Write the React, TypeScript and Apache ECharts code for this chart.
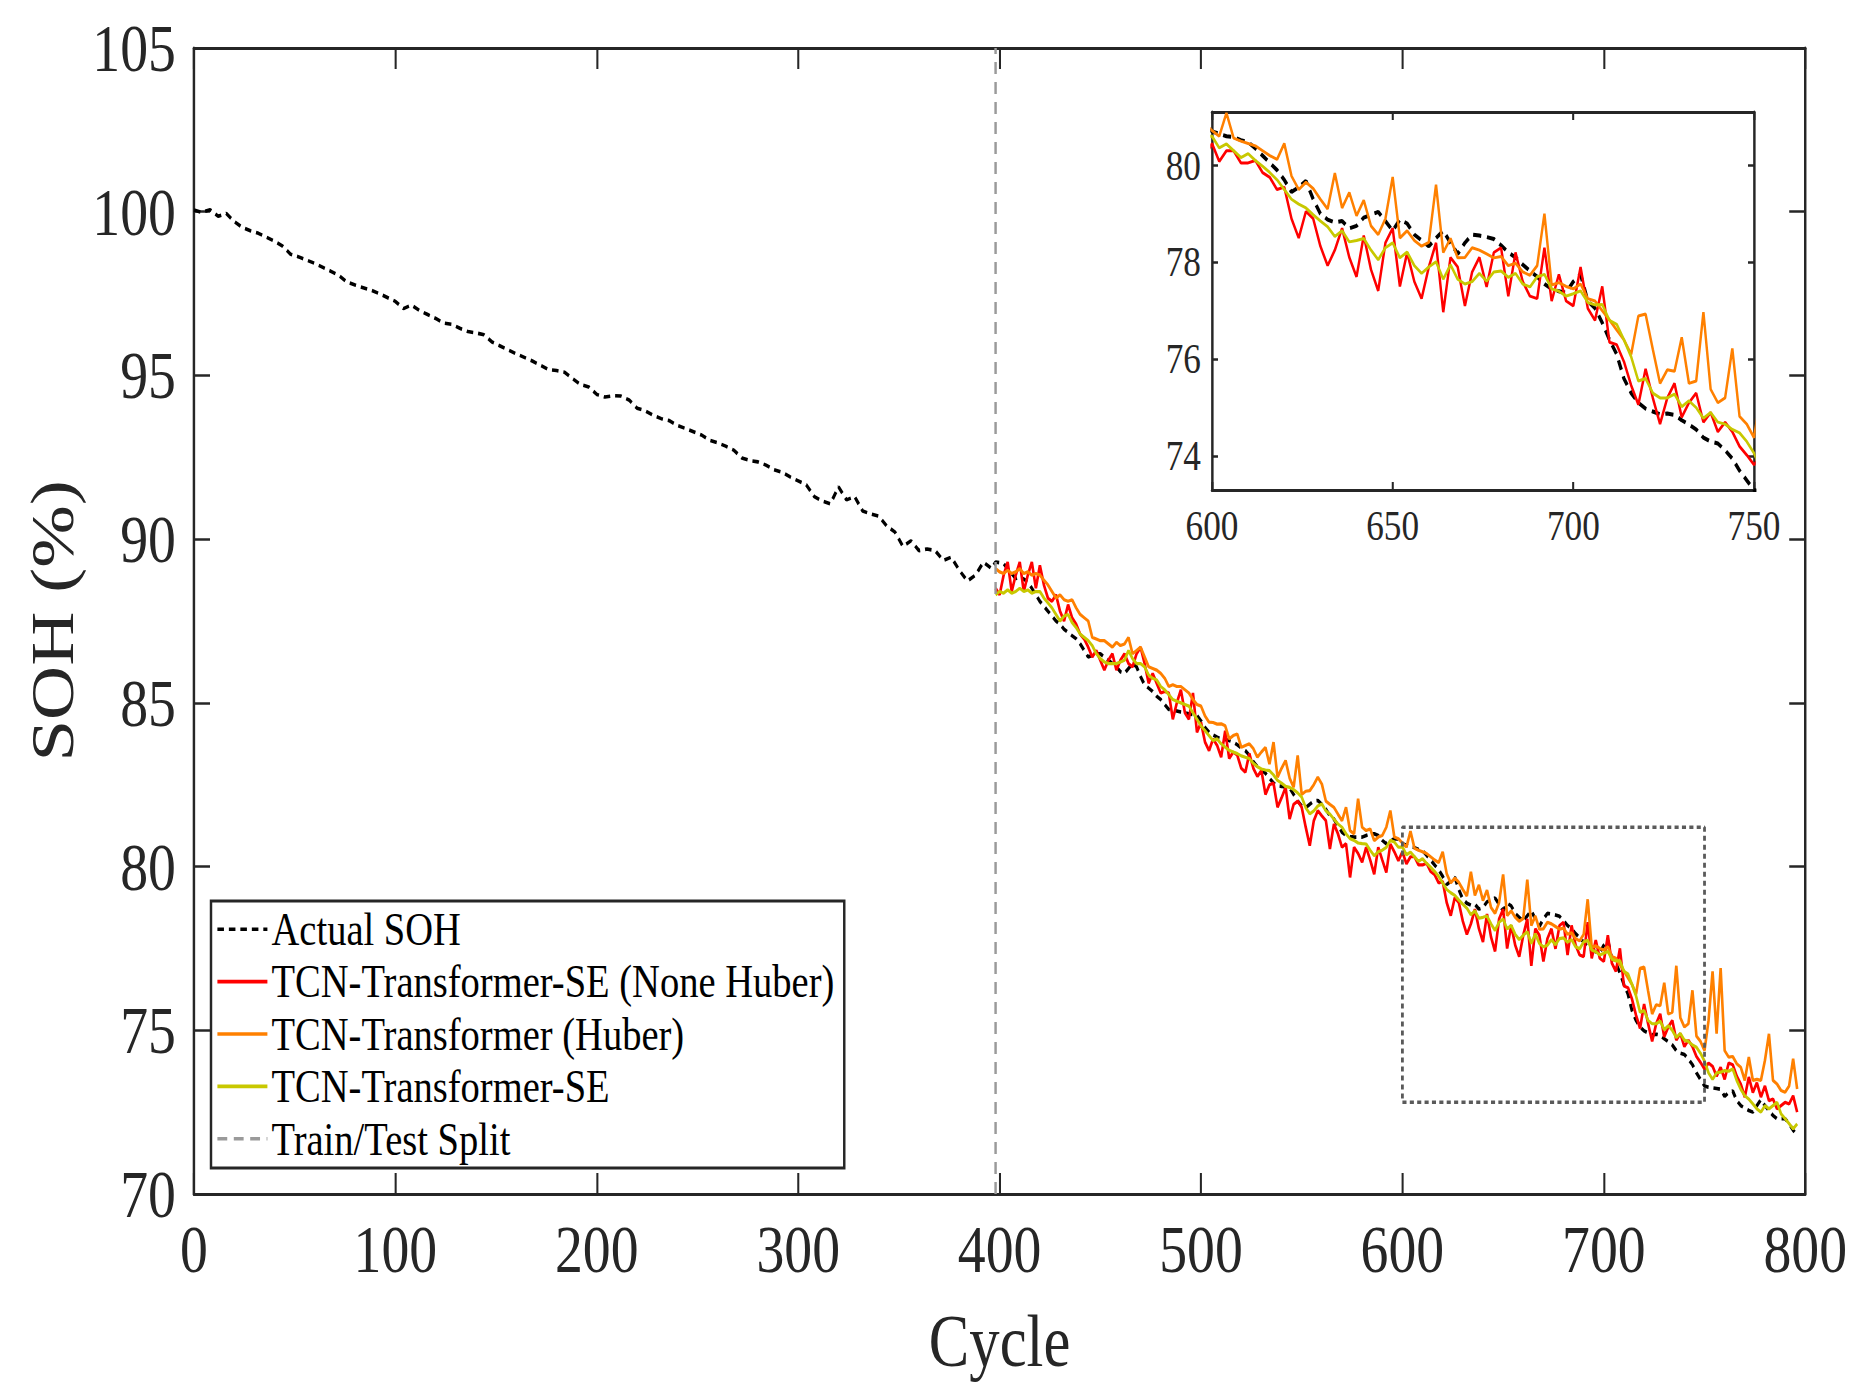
import { useEffect, useRef } from "react"
import * as echarts from "echarts"

// the reference figure is horizontally condensed, so the chart is drawn wider and squeezed with scaleX
const K = 0.82
const PAGE_W = 1862
const PAGE_H = 1396
const W = PAGE_W / K
const hx = (v: number) => v / K

const FONT = "'Liberation Serif', 'Times New Roman', serif"
const AXIS_COLOR = "#262626"

const X_RANGE = [0, 800]
const Y_RANGE = [70, 105]
const INSET_X = [600, 750]
const INSET_Y = [73.3, 81.1]
const INSET_Y_TICKS = [74, 76, 78, 80]
const ZOOM_X = [600, 750]
const ZOOM_Y = [72.8, 81.2]
const SPLIT_CYCLE = 398

const NAMES = [
  "Actual SOH",
  "TCN-Transformer-SE (None Huber)",
  "TCN-Transformer (Huber)",
  "TCN-Transformer-SE",
  "Train/Test Split",
]
const COLORS = ["#000000", "#ff0000", "#ff8000", "#c8c800", "#9a9a9a"]

// actual SOH, cycles 0..396 every 4
const TRAIN_START = 0
const TRAIN_STEP = 4
const ACTUAL_TRAIN = [
  100.05, 99.98, 100.06, 99.86, 99.95, 99.7, 99.52, 99.42, 99.34, 99.22,
  99.1, 98.95, 98.7, 98.62, 98.52, 98.42, 98.3, 98.18, 98.05, 97.85,
  97.76, 97.68, 97.6, 97.5, 97.38, 97.26, 97.04, 97.15, 96.98, 96.86,
  96.74, 96.6, 96.56, 96.44, 96.34, 96.3, 96.24, 96.02, 95.9, 95.78,
  95.66, 95.55, 95.44, 95.31, 95.18, 95.15, 95.1, 94.9, 94.72, 94.65,
  94.42, 94.34, 94.38, 94.37, 94.25, 94.0, 93.92, 93.78, 93.68, 93.62,
  93.47, 93.38, 93.28, 93.18, 93.02, 92.94, 92.84, 92.72, 92.48, 92.4,
  92.36, 92.26, 92.12, 92.04, 91.9, 91.78, 91.66, 91.3, 91.16, 91.08,
  91.6, 91.2, 91.3, 90.86, 90.77, 90.7, 90.4, 90.22, 89.78, 89.95,
  89.65, 89.7, 89.65, 89.35, 89.45, 89.05, 88.72, 88.9, 89.3, 89.1,
]

// test part, cycles 398..796 every 2
const TEST_START = 398
const TEST_STEP = 2
const ACTUAL_TEST = [
  89.3, 89.28, 89.25, 89.1, 88.95, 88.8, 88.85, 88.78, 88.7, 88.5,
  88.3, 88.1, 87.95, 87.8, 87.65, 87.5, 87.4, 87.25, 87.15, 87.05,
  86.96, 86.8, 86.6, 86.4, 86.45, 86.5, 86.5, 86.4, 86.3, 86.2,
  86.1, 85.95, 85.9, 86.05, 86.2, 86.1, 85.8, 85.55, 85.45, 85.35,
  85.2, 85.1, 84.95, 84.8, 84.78, 84.75, 84.72, 84.7, 84.66, 84.64,
  84.61, 84.45, 84.25, 84.1, 84.02, 83.95, 83.9, 83.88, 83.85, 83.8,
  83.72, 83.62, 83.54, 83.4, 83.2, 83.05, 82.95, 82.85, 82.7, 82.55,
  82.47, 82.45, 82.42, 82.4, 82.2, 82.0, 81.85, 81.8, 81.9, 82.0,
  82.02, 81.9, 81.75, 81.55, 81.45, 81.25, 81.05, 80.95, 80.92, 80.9,
  80.9, 80.9, 80.95, 81.0, 81.0, 80.95, 80.8, 80.7, 80.78, 80.85,
  80.84, 80.7, 80.65, 80.6, 80.58, 80.52, 80.48, 80.35, 80.2, 80.05,
  79.9, 79.7, 79.45, 79.55, 79.68, 79.3, 79.0, 78.88, 78.82, 78.85,
  78.7, 78.75, 78.92, 78.98, 79.04, 78.85, 78.65, 78.88, 78.8, 78.57,
  78.45, 78.33, 78.5, 78.65, 78.4, 78.17, 78.4, 78.57, 78.55, 78.52,
  78.48, 78.35, 78.2, 78.1, 77.95, 77.82, 77.7, 77.55, 77.45, 77.4,
  77.37, 77.6, 77.75, 77.2, 77.05, 76.75, 76.4, 76.1, 75.6, 75.3,
  75.1, 74.98, 74.92, 74.86, 74.88, 74.85, 74.74, 74.65, 74.55, 74.38,
  74.3, 74.26, 74.12, 73.95, 73.7, 73.5, 73.3, 73.26, 73.24, 73.22,
  73.2, 72.98, 73.1, 73.15, 72.85, 72.7, 72.62, 72.55, 72.5, 72.7,
  72.88, 72.7, 72.55, 72.4, 72.3, 72.3, 72.3, 72.15, 71.95, 71.79,
]

const PRED_NONE_HUBER = [
  88.5, 88.3, 88.9, 89.3, 88.4, 88.9, 89.3, 88.4, 88.9, 89.3,
  88.5, 89.2, 88.6, 88.2, 88.1, 88.3, 87.8, 87.5, 88.0, 87.6,
  87.4, 87.1, 86.95, 86.7, 86.4, 86.6, 86.3, 86.0, 86.3, 86.5,
  86.0, 86.3, 86.5, 86.2, 86.1, 86.5, 86.7, 86.2, 85.6, 85.9,
  85.6, 85.3, 85.35, 85.3, 84.5, 85.0, 85.4, 84.7, 84.5, 85.3,
  84.1, 84.4, 83.8, 83.54, 83.9, 83.7, 83.34, 84.15, 83.3, 83.5,
  83.4, 83.0, 82.88, 83.45, 83.0, 82.75, 82.93, 82.2, 82.5, 82.55,
  81.81, 82.1, 82.42, 81.45, 81.9, 82.0, 81.81, 81.2, 80.64, 81.4,
  81.71, 81.55, 81.4, 80.54, 81.3, 81.0, 80.59, 80.7, 79.67, 80.59,
  80.4, 80.13, 80.59, 80.2, 79.77, 80.59, 80.2, 79.82, 80.69, 80.45,
  80.18, 80.45, 80.08, 80.3, 80.3, 80.05, 80.05, 80.1, 79.85, 79.75,
  79.5, 79.55, 78.9, 78.5, 79.05, 78.9, 78.33, 77.93, 78.25, 78.7,
  78.1, 77.7, 78.55, 77.85, 77.41, 78.4, 78.7, 77.5, 78.2, 77.6,
  77.25, 77.9, 78.4, 76.97, 78.1, 77.9, 77.1, 77.8, 78.1, 77.49,
  78.2, 78.3, 77.3, 78.2, 77.6, 77.3, 77.25, 78.3, 77.2, 77.75,
  77.2, 77.1, 77.9, 77.05, 76.8, 77.5, 76.35, 76.3, 75.95, 75.46,
  75.06, 75.8, 75.2, 74.66, 75.2, 75.5, 74.8, 75.1, 75.3, 74.7,
  74.9, 74.5, 74.7, 74.5, 74.2, 74.02, 73.82, 74.0, 73.9, 73.6,
  73.87, 73.5, 74.0, 73.95, 73.6, 73.36, 72.96, 73.57, 73.1, 73.4,
  72.96, 73.3, 72.85, 72.9, 72.6, 72.7, 72.8, 72.75, 73.0, 72.5,
]

const PRED_HUBER = [
  89.1, 89.0, 88.95, 89.05, 88.95, 89.0, 89.1, 88.95, 89.0, 88.9,
  88.95, 88.9, 88.75, 88.6, 88.4, 88.2, 88.3, 88.15, 88.1, 88.15,
  87.9, 87.7, 87.6, 87.5, 87.0, 86.95, 86.9, 86.9, 86.8, 86.7,
  86.85, 86.75, 86.8, 87.0, 86.5, 86.6, 86.7, 86.4, 86.1, 86.05,
  86.0, 85.9, 85.75, 85.5, 85.55, 85.5, 85.5, 85.4, 85.3, 85.1,
  84.95, 84.9, 84.6, 84.41, 84.4, 84.35, 84.36, 84.3, 83.9, 84.0,
  84.05, 83.64, 83.7, 83.75, 83.6, 83.34, 83.5, 83.64, 83.13, 83.8,
  82.73, 83.0, 83.24, 82.7, 82.42, 83.39, 82.2, 82.3, 82.32, 82.5,
  82.73, 82.52, 82.0, 81.9, 81.81, 81.6, 81.4, 81.81, 81.1, 81.0,
  82.07, 81.2, 81.1, 81.15, 80.79, 80.9, 80.95, 81.2, 81.71, 80.9,
  80.85, 80.72, 80.6, 81.08, 80.56, 80.5, 80.45, 80.4, 80.3, 80.2,
  80.12, 80.45, 79.78, 79.5, 79.65, 79.52, 79.3, 79.1, 79.84, 79.12,
  79.44, 78.96, 79.28, 78.75, 78.57, 78.9, 79.76, 78.5, 78.65, 78.45,
  78.33, 78.41, 79.6, 78.2, 78.49, 78.09, 78.1, 78.3, 78.25, 78.17,
  78.09, 78.12, 77.93, 77.98, 77.8, 77.73, 77.93, 79.0, 77.53, 77.58,
  77.5, 77.45, 77.55, 77.25, 77.2, 77.0, 76.81, 76.6, 76.4, 76.1,
  76.89, 76.93, 76.2, 75.5, 75.78, 75.75, 76.45, 75.5, 75.55, 76.97,
  75.38, 75.1, 75.2, 76.22, 74.82, 74.66, 74.38, 75.3, 76.8, 74.9,
  76.9, 74.38, 74.18, 74.2, 73.98, 73.87, 73.47, 74.18, 73.47, 73.5,
  73.47, 74.08, 74.89, 73.47, 73.36, 73.16, 73.11, 73.3, 74.13, 73.21,
]

const PRED_SE = [
  88.3, 88.4, 88.35, 88.45, 88.35, 88.4, 88.5, 88.4, 88.45, 88.35,
  88.4, 88.4, 88.2, 88.05, 87.9, 87.7, 87.5, 87.65, 87.7, 87.45,
  87.3, 87.1, 87.0, 86.9, 86.75, 86.5, 86.35, 86.25, 86.2, 86.2,
  86.2, 86.25, 86.3, 86.6, 86.35, 86.2, 86.2, 86.1, 85.85, 85.75,
  85.7, 85.5, 85.4, 85.25, 85.1, 85.05, 85.0, 84.95, 84.9, 84.7,
  84.5, 84.3, 84.15, 84.0, 83.85, 83.9, 83.75, 83.65, 83.55, 83.5,
  83.45, 83.38, 83.34, 83.3, 83.15, 83.05, 82.98, 82.95, 82.93, 82.8,
  82.63, 82.55, 82.45, 82.42, 82.35, 82.25, 82.12, 81.8, 81.61, 81.7,
  81.85, 81.91, 81.7, 81.6, 81.45, 81.3, 81.2, 81.0, 80.85, 80.8,
  80.72, 80.7, 80.69, 80.5, 80.33, 80.45, 80.5, 80.59, 80.8, 80.75,
  80.59, 80.6, 80.36, 80.44, 80.3, 80.16, 80.24, 80.1, 79.98, 79.85,
  79.7, 79.5, 79.3, 79.2, 79.12, 78.98, 78.85, 78.73, 78.53, 78.65,
  78.42, 78.45, 78.49, 78.25, 78.05, 78.3, 78.4, 78.09, 78.21, 77.93,
  77.77, 77.9, 78.01, 77.65, 77.95, 77.65, 77.55, 77.6, 77.77, 77.61,
  77.8, 77.82, 77.69, 77.77, 77.55, 77.49, 77.7, 77.75, 77.45, 77.4,
  77.3, 77.35, 77.41, 77.17, 77.12, 77.13, 76.8, 76.72, 76.4, 76.05,
  75.55, 75.6, 75.3, 75.2, 75.2, 75.28, 75.02, 75.14, 75.0, 74.78,
  74.9, 74.7, 74.66, 74.55, 74.48, 74.3, 74.06, 73.7, 73.5, 73.7,
  73.72, 73.77, 73.75, 73.82, 73.47, 73.2, 73.0, 72.9, 72.75, 72.6,
  72.5, 72.7, 72.6, 72.7, 72.8, 72.45, 72.3, 72.15, 71.99, 72.14,
]

const pairs = (start: number, step: number, values: number[]) =>
  values.map((v, i) => [start + i * step, v])

const inInset = (p: number[]) => p[0] >= INSET_X[0] - 4 && p[0] <= INSET_X[1] + 4

const App = () => {
  const chartRef = useRef<HTMLDivElement>(null)

  useEffect(() => {
    if (!chartRef.current) return
    const chart = echarts.init(chartRef.current, null, { renderer: "svg" })

    const actual = [
      ...pairs(TRAIN_START, TRAIN_STEP, ACTUAL_TRAIN),
      ...pairs(TEST_START, TEST_STEP, ACTUAL_TEST),
    ]
    const preds = [PRED_NONE_HUBER, PRED_HUBER, PRED_SE].map((arr) =>
      pairs(TEST_START, TEST_STEP, arr)
    )

    const lineBase = {
      type: "line",
      symbol: "none",
      showSymbol: false,
      silent: true,
    }

    const mainSeries: any[] = [
      {
        ...lineBase,
        name: NAMES[0],
        xAxisIndex: 0,
        yAxisIndex: 0,
        data: actual,
        lineStyle: { color: COLORS[0], width: 3.6, type: [8, 6] },
        itemStyle: { color: COLORS[0] },
      },
      ...preds.map((d, i) => ({
        ...lineBase,
        name: NAMES[i + 1],
        xAxisIndex: 0,
        yAxisIndex: 0,
        data: d,
        lineStyle: { color: COLORS[i + 1], width: 3.2 },
        itemStyle: { color: COLORS[i + 1] },
      })),
      {
        ...lineBase,
        name: NAMES[4],
        xAxisIndex: 0,
        yAxisIndex: 0,
        data: [
          [SPLIT_CYCLE, Y_RANGE[0]],
          [SPLIT_CYCLE, Y_RANGE[1]],
        ],
        lineStyle: { color: COLORS[4], width: 3, type: [12, 8] },
        itemStyle: { color: COLORS[4] },
      },
      {
        ...lineBase,
        name: "zoom-box",
        xAxisIndex: 0,
        yAxisIndex: 0,
        data: [
          [ZOOM_X[0], ZOOM_Y[0]],
          [ZOOM_X[1], ZOOM_Y[0]],
          [ZOOM_X[1], ZOOM_Y[1]],
          [ZOOM_X[0], ZOOM_Y[1]],
          [ZOOM_X[0], ZOOM_Y[0]],
        ],
        lineStyle: { color: "#5a5a5a", width: 3.4, type: [5, 4] },
      },
    ]

    const insetSeries: any[] = [
      {
        ...lineBase,
        name: NAMES[0],
        xAxisIndex: 2,
        yAxisIndex: 2,
        z: 8,
        data: actual.filter(inInset),
        lineStyle: { color: COLORS[0], width: 4, type: [10, 7] },
        itemStyle: { color: COLORS[0] },
      },
      ...preds.map((d, i) => ({
        ...lineBase,
        name: NAMES[i + 1],
        xAxisIndex: 2,
        yAxisIndex: 2,
        z: 8,
        data: d.filter(inInset),
        lineStyle: { color: COLORS[i + 1], width: 3 },
        itemStyle: { color: COLORS[i + 1] },
      })),
    ]

    const label = (size: number, margin: number) => ({
      fontSize: size,
      fontFamily: FONT,
      color: AXIS_COLOR,
      margin,
    })
    const axisLine = { show: true, onZero: false, lineStyle: { color: AXIS_COLOR, width: 3 } }
    const tickStyle = { color: AXIS_COLOR, width: 2.5 }

    chart.setOption({
      animation: false,
      backgroundColor: "#ffffff",
      grid: [
        { left: hx(194), right: hx(57), top: 48, bottom: 202, containLabel: false },
        {
          left: hx(1212),
          top: 112,
          width: hx(542),
          height: 378,
          show: true,
          backgroundColor: "#ffffff",
          borderWidth: 0,
        },
      ],
      legend: {
        data: NAMES,
        orient: "vertical",
        left: hx(211),
        top: 901,
        itemWidth: hx(50),
        itemHeight: 14,
        itemGap: 0,
        padding: [2, 12, 3, 6],
        backgroundColor: "#ffffff",
        borderColor: AXIS_COLOR,
        borderWidth: 3,
        borderRadius: 0,
        selectedMode: false,
        itemStyle: { opacity: 0 },
        lineStyle: { width: 3.6 },
        textStyle: { fontSize: 47, fontFamily: FONT, color: "#000000", lineHeight: 52.4 },
        z: 10,
      },
      xAxis: [
        {
          type: "value",
          gridIndex: 0,
          position: "bottom",
          min: X_RANGE[0],
          max: X_RANGE[1],
          interval: 100,
          axisLine,
          axisTick: { inside: true, length: 21, lineStyle: tickStyle },
          axisLabel: label(68, 21),
          splitLine: { show: false },
          name: "Cycle",
          nameLocation: "middle",
          nameGap: 110,
          nameTextStyle: { fontSize: 74, fontFamily: FONT, color: AXIS_COLOR },
        },
        {
          type: "value",
          gridIndex: 0,
          position: "top",
          min: X_RANGE[0],
          max: X_RANGE[1],
          interval: 100,
          axisLine,
          axisTick: { inside: true, length: 21, lineStyle: tickStyle },
          axisLabel: { show: false },
          splitLine: { show: false },
        },
        {
          type: "value",
          gridIndex: 1,
          position: "bottom",
          min: INSET_X[0],
          max: INSET_X[1],
          interval: 50,
          axisLine,
          axisTick: { inside: true, length: 8, lineStyle: tickStyle },
          axisLabel: label(43, 14),
          splitLine: { show: false },
        },
        {
          type: "value",
          gridIndex: 1,
          position: "top",
          min: INSET_X[0],
          max: INSET_X[1],
          interval: 50,
          axisLine,
          axisTick: { inside: true, length: 8, lineStyle: tickStyle },
          axisLabel: { show: false },
          splitLine: { show: false },
        },
      ],
      yAxis: [
        {
          type: "value",
          gridIndex: 0,
          position: "left",
          min: Y_RANGE[0],
          max: Y_RANGE[1],
          interval: 5,
          axisLine,
          axisTick: { inside: true, length: hx(16), lineStyle: tickStyle },
          axisLabel: label(68, hx(18)),
          splitLine: { show: false },
          name: "SOH (%)",
          nameLocation: "middle",
          nameGap: 129,
          nameTextStyle: { fontSize: 75, fontFamily: FONT, color: AXIS_COLOR },
        },
        {
          type: "value",
          gridIndex: 0,
          position: "right",
          min: Y_RANGE[0],
          max: Y_RANGE[1],
          interval: 5,
          axisLine,
          axisTick: { inside: true, length: hx(16), lineStyle: tickStyle },
          axisLabel: { show: false },
          splitLine: { show: false },
        },
        {
          type: "value",
          gridIndex: 1,
          position: "left",
          min: INSET_Y[0],
          max: INSET_Y[1],
          splitNumber: 4,
          axisLine,
          axisTick: {
            inside: true,
            length: hx(6),
            customValues: INSET_Y_TICKS,
            lineStyle: tickStyle,
          },
          axisLabel: { ...label(43, hx(11)), customValues: INSET_Y_TICKS },
          splitLine: { show: false },
        },
        {
          type: "value",
          gridIndex: 1,
          position: "right",
          min: INSET_Y[0],
          max: INSET_Y[1],
          splitNumber: 4,
          axisLine,
          axisTick: {
            inside: true,
            length: hx(6),
            customValues: INSET_Y_TICKS,
            lineStyle: tickStyle,
          },
          axisLabel: { show: false },
          splitLine: { show: false },
        },
      ],
      series: [...mainSeries, ...insetSeries],
    })

    return () => {
      chart.dispose()
    }
  }, [])

  return (
    <div
      style={{
        position: "absolute",
        left: 0,
        top: 0,
        width: PAGE_W,
        height: PAGE_H,
        overflow: "hidden",
        background: "#ffffff",
      }}
    >
      <div
        ref={chartRef}
        style={{
          width: W,
          height: PAGE_H,
          transform: `scaleX(${K})`,
          transformOrigin: "0 0",
        }}
      />
    </div>
  )
}

export default App
